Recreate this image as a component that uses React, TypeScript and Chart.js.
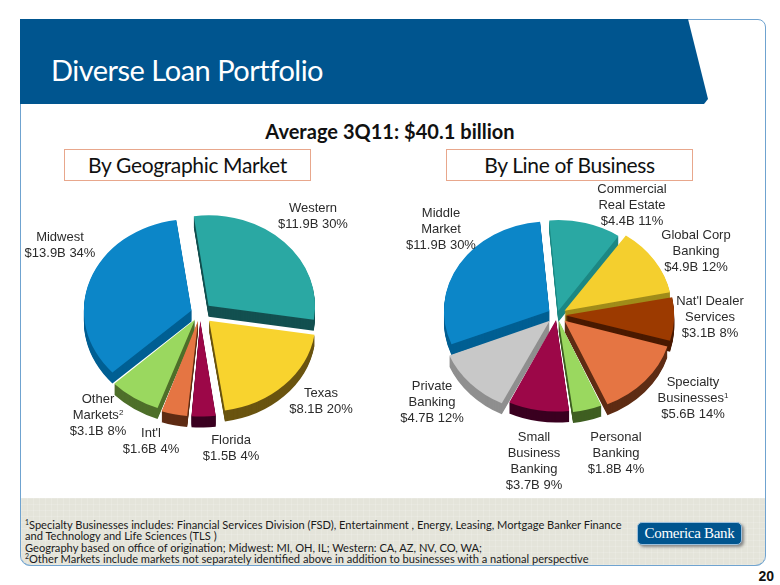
import React, { useEffect, useRef } from "react";
import { Chart, registerables } from "chart.js";

Chart.register(...registerables);

const geoLabels = ["Western", "Texas", "Florida", "Int'l", "Other Markets", "Midwest"];
const geoValues = [11.9, 8.1, 1.5, 1.6, 3.1, 13.9];
const geoColors = ["#2aa8a3", "#f8d32e", "#9c0748", "#e57543", "#9ad85f", "#0c86c8"];
const geoSides = ["#135050", "#6a5410", "#3a0020", "#5e2c14", "#4e6f2a", "#005f93"];
const geoOffsets = [12, 13, 9, 9, 9, 9];

const lobLabels = [
  "Commercial Real Estate", "Global Corp Banking", "Nat'l Dealer Services", "Specialty Businesses",
  "Personal Banking", "Small Business Banking", "Private Banking", "Middle Market",
];
const lobValues = [4.4, 4.9, 3.1, 5.6, 1.8, 3.7, 4.7, 11.9];
const lobColors = ["#2aa8a3", "#f4cf2e", "#9c3a00", "#e57543", "#9ad85f", "#9c0748", "#c8c8c8", "#0c86c8"];
const lobSides = ["#1c8783", "#a08c1a", "#4a1a00", "#5e2c14", "#3f5f22", "#3a0020", "#8f8f8f", "#005f93"];
const lobOffsets = [5, 9, 8, 10, 6, 6, 10, 9];

const SQUASH = 0.85;
const DEPTH = 11;

const pie3d = (sides: string[]) => ({
  id: "pie3d",
  beforeDatasetsDraw(chart: any) {
    const { ctx, width, height } = chart;
    const arcs = chart.getDatasetMeta(0).data.map((a: any, i: number) => ({ a, i }));
    ctx.save();
    ctx.translate(width / 2, height / 2);
    ctx.scale(1, SQUASH);
    ctx.translate(-width / 2, -height / 2);
    const mid = (a: any) => Math.sin((a.startAngle + a.endAngle) / 2);
    arcs.sort((p: any, q: any) => mid(p.a) - mid(q.a));
    for (const { a, i } of arcs) {
      const ghost = Object.create(a);
      ghost.options = { ...a.options, backgroundColor: sides[i], borderWidth: 0 };
      for (let d = DEPTH; d >= 1; d--) {
        ctx.save();
        ctx.translate(0, d / SQUASH);
        ghost.draw(ctx);
        ctx.restore();
      }
    }
  },
  afterDatasetsDraw(chart: any) {
    chart.ctx.restore();
  },
});

function Pie(props: {
  cx: number; cy: number; r: number; rotation: number;
  labels: string[]; values: number[]; colors: string[]; sides: string[]; offsets: number[];
}) {
  const ref = useRef<HTMLCanvasElement>(null);
  useEffect(() => {
    const chart = new Chart(ref.current as HTMLCanvasElement, {
      type: "pie",
      data: {
        labels: props.labels,
        datasets: [{
          data: props.values,
          backgroundColor: props.colors,
          borderWidth: 0,
          offset: props.offsets.map((o) => o * 4),
          clip: false,
        } as any],
      },
      options: {
        responsive: false,
        animation: false,
        rotation: props.rotation,
        radius: props.r,
        events: [],
        layout: { padding: 0 },
        plugins: { legend: { display: false }, tooltip: { enabled: false } },
      } as any,
      plugins: [pie3d(props.sides)],
    });
    return () => chart.destroy();
  }, []);
  return (
    <canvas
      ref={ref}
      width={320}
      height={320}
      style={{ position: "absolute", left: props.cx - 160, top: props.cy - 160, width: 320, height: 320 }}
    />
  );
}

const arial = "'Liberation Sans', Arial, sans-serif";
const slideFont = "Lato, 'Open Sans', sans-serif";

function Lab(p: { x: number; y: number; children: React.ReactNode }) {
  return (
    <div style={{
      position: "absolute", left: p.x - 80, top: p.y, width: 160, textAlign: "center",
      font: `13px/16px ${arial}`, color: "#2b2b2b", whiteSpace: "nowrap",
    }}>{p.children}</div>
  );
}

const Sup = (p: { children: React.ReactNode }) => (
  <span style={{ fontSize: "0.62em", verticalAlign: "0.55em", lineHeight: 0 }}>{p.children}</span>
);

function Box(p: { x: number; children: React.ReactNode }) {
  return (
    <div style={{
      position: "absolute", left: p.x, top: 149, width: 245, height: 30, border: "1px solid #e8a78c",
      boxSizing: "content-box", textAlign: "center", font: `21px/30px ${slideFont}`, letterSpacing: "-0.35px", color: "#111",
    }}>{p.children}</div>
  );
}

export default function App() {
  return (
    <div style={{ position: "fixed", left: 0, top: 0, width: 780, height: 585, background: "#fff", overflow: "hidden" }}>
      <div style={{
        position: "absolute", left: 20, top: 19, width: 746, height: 547, boxSizing: "border-box",
        border: "1px solid #6fa3d0", borderRadius: "0 8px 10px 10px",
      }} />
      <div style={{
        position: "absolute", left: 20, top: 19, width: 688, height: 85, background: "#00558f",
        clipPath: "polygon(0 0, 668px 0, 688px 80px, 684px 85px, 0 85px)",
      }} />
      <div style={{
        position: "absolute", left: 51, top: 50, color: "#fff",
        font: `29px/40px ${slideFont}`, letterSpacing: "-0.5px", whiteSpace: "nowrap",
      }}>Diverse Loan Portfolio</div>
      <div style={{
        position: "absolute", left: 0, width: 780, top: 117, textAlign: "center", color: "#111",
        font: `bold 20px/28px ${slideFont}`, letterSpacing: "0.03px",
      }}>Average 3Q11: $40.1 billion</div>
      <Box x={64}>By Geographic Market</Box>
      <Box x={446}>By Line of Business</Box>

      <div style={{
        position: "absolute", left: 21, top: 498, width: 744, height: 68, boxSizing: "border-box",
        borderRadius: "0 0 10px 10px", borderBottom: "1px solid #6fa3d0",
        background: "repeating-linear-gradient(0deg, rgba(255,255,255,.14) 0 1px, transparent 1px 6px), repeating-linear-gradient(90deg, rgba(255,255,255,.14) 0 1px, transparent 1px 6px), #e4e4da",
      }} />
      <div style={{
        position: "absolute", left: 25, top: 519, width: 610, color: "#1a1a1a",
        font: `11.1px/11.3px ${slideFont}`, whiteSpace: "nowrap",
      }}>
        <div><Sup>1</Sup>Specialty Businesses includes:  Financial Services Division (FSD), Entertainment , Energy, Leasing, Mortgage Banker Finance</div>
        <div>and Technology and Life Sciences (TLS )</div>
        <div>Geography based on office of origination; Midwest: MI, OH, IL;  Western: CA, AZ, NV, CO, WA;</div>
        <div><Sup>2</Sup>Other Markets include markets not separately identified above in addition to businesses with a national perspective</div>
      </div>
      <div style={{
        position: "absolute", left: 637, top: 522, width: 105, height: 23, borderRadius: 5, background: "#00558f",
        border: "1px solid #9cc0dc", boxShadow: "2px 2px 3px #888", boxSizing: "border-box", textAlign: "center",
        color: "#fff", font: "15px/21px 'Liberation Serif', serif", letterSpacing: "-0.3px", whiteSpace: "nowrap",
      }}>Comerica Bank</div>
      <div style={{
        position: "absolute", right: 6, top: 568, color: "#111", font: `bold 14px/16px ${arial}`,
      }}>20</div>

      <Pie cx={200} cy={313} r={106} rotation={-8} labels={geoLabels} values={geoValues} colors={geoColors} sides={geoSides} offsets={geoOffsets} />
      <Pie cx={557} cy={315} r={105} rotation={-5} labels={lobLabels} values={lobValues} colors={lobColors} sides={lobSides} offsets={lobOffsets} />

      <Lab x={313} y={200}>Western<br />$11.9B 30%</Lab>
      <Lab x={60} y={229}>Midwest<br />$13.9B 34%</Lab>
      <Lab x={321} y={385}>Texas<br />$8.1B 20%</Lab>
      <Lab x={231} y={432}>Florida<br />$1.5B 4%</Lab>
      <Lab x={151} y={425}>Int'l<br />$1.6B 4%</Lab>
      <Lab x={98} y={391}>Other<br />Markets<Sup>2</Sup><br />$3.1B 8%</Lab>

      <Lab x={441} y={205}>Middle<br />Market<br />$11.9B 30%</Lab>
      <Lab x={632} y={181}>Commercial<br />Real Estate<br />$4.4B 11%</Lab>
      <Lab x={696} y={227}>Global Corp<br />Banking<br />$4.9B 12%</Lab>
      <Lab x={710} y={293}>Nat'l Dealer<br />Services<br />$3.1B 8%</Lab>
      <Lab x={693} y={374}>Specialty<br />Businesses<Sup>1</Sup><br />$5.6B 14%</Lab>
      <Lab x={432} y={378}>Private<br />Banking<br />$4.7B 12%</Lab>
      <Lab x={534} y={429}>Small<br />Business<br />Banking<br />$3.7B 9%</Lab>
      <Lab x={616} y={429}>Personal<br />Banking<br />$1.8B 4%</Lab>
    </div>
  );
}
